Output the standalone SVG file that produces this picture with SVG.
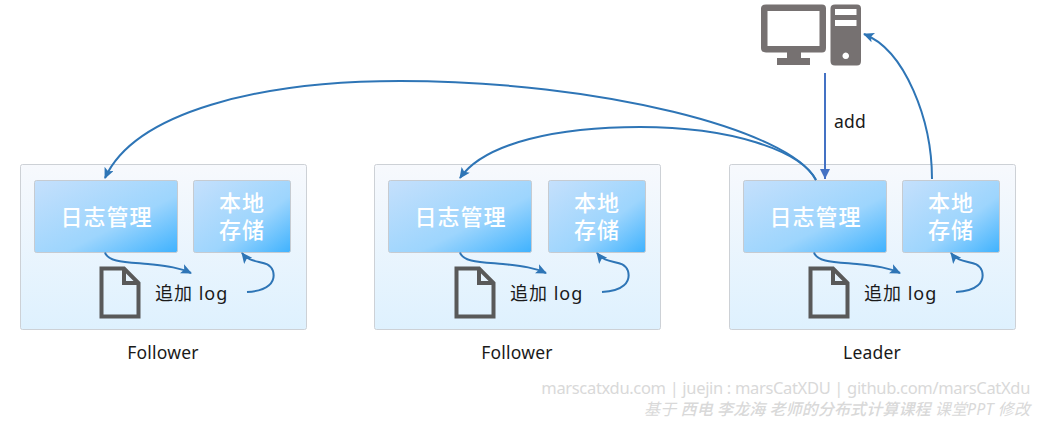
<svg xmlns="http://www.w3.org/2000/svg" width="1039" height="422" viewBox="0 0 1039 422">
<style>
text{font-family:"Noto Sans","Noto Sans CJK SC",sans-serif}
.panel{fill:url(#pg);stroke:#cdd1d6;stroke-width:1}
.box{fill:url(#bg);stroke:#c6cbd1;stroke-width:1}
.t{font-size:22px;font-weight:500;fill:#fff;text-anchor:middle;letter-spacing:1px}
.l{font-size:18px;fill:#1a1a1a;letter-spacing:1px}
.c{font-size:17.500px;fill:#1a1a1a;text-anchor:middle;letter-spacing:.2px}
.doc{fill:none;stroke:#595959;stroke-width:4}
.a{fill:none;stroke:#2e75b6;stroke-width:2;marker-end:url(#ah)}
.ic{fill:#767171}
.w1{font-size:16.500px;fill:#d9d9d9;text-anchor:end;letter-spacing:-.33px}
.w2{font-size:16px;fill:#d9d9d9;text-anchor:end;font-style:italic;letter-spacing:.1px}
.wb{font-weight:500}
</style>
<defs>
<linearGradient id="pg" x1="0" y1="0" x2="0" y2="1"><stop offset="0" stop-color="#f7f9fd"/><stop offset="1" stop-color="#def1fe"/></linearGradient>
<linearGradient id="bg" x1="0" y1="0" x2="1" y2="1"><stop offset="0" stop-color="#c5e0fc"/><stop offset="0.6" stop-color="#9dd5fd"/><stop offset="1" stop-color="#3fb2fe"/></linearGradient>
<marker id="ah" markerUnits="userSpaceOnUse" markerWidth="12" markerHeight="10" refX="10" refY="5" orient="auto"><path d="M0 0L11 5L0 10L2.500 5Z" fill="#2e75b6"/></marker>
<marker id="ab" markerUnits="userSpaceOnUse" markerWidth="12" markerHeight="10" refX="10" refY="5" orient="auto"><path d="M0 0L10 5L0 10Z" fill="#4472c4"/></marker>
<g id="left">
<rect class="panel" x="20.500" y="164.500" width="286" height="165" rx="2"/>
<rect class="box" x="34.500" y="180.500" width="143" height="72" rx="2"/>
<text class="t" x="106.500" y="225">日志管理</text>
</g>
<g id="right">
<rect class="box" x="193.500" y="180.500" width="97" height="72" rx="2"/>
<text class="t" x="242" y="211">本地</text>
<text class="t" x="242" y="238">存储</text>
<path class="doc" d="M101.500 268.500H124L138.500 283V316.500H101.500ZM124 268.500V283H138.500"/>
<text class="l" x="155" y="300">追加 log</text>
</g>
</defs>
<g id="follower-1"><use href="#left"/><use href="#right"/><text class="c" x="163" y="359">Follower</text></g>
<g id="follower-2"><use href="#left" x="354"/><use href="#right" x="355"/><text class="c" x="517" y="359">Follower</text></g>
<g id="leader"><use href="#left" x="709"/><use href="#right" x="709"/><text class="c" x="872" y="359">Leader</text></g>
<g id="client">
<path class="ic" fill-rule="evenodd" d="M766 4.500H822Q826 4.500 826 8.500V48Q826 52.500 822 52.500H801V58H810V65H777V58H787V52.500H766Q761 52.500 761 48V8.500Q761 4.500 766 4.500ZM767.500 11V46H819.500V11Z"/>
<path class="ic" fill-rule="evenodd" d="M835 4.500H857Q861 4.500 861 8.500V61Q861 65.500 857 65.500H835Q830.500 65.500 830.500 61V8.500Q830.500 4.500 835 4.500ZM835 9V15H856.500V9ZM835 20V26H856.500V20ZM845.700 52.500A3.300 3.300 0 1 0 845.800 52.500Z"/>
</g>
<g id="connectors">
<path class="a" d="M105 252.500C108 262 125 262 148 264C165 266 178 267 191 273"/>
<path class="a" d="M460 252.500C463 262 480 262 503 264C520 266 533 267 546 273"/>
<path class="a" d="M814 252.500C817 262 834 262 857 264C874 266 887 267 900 273"/>
<path class="a" d="M247 292C268 291 276 282 273 271C268 258 252 266 242 253"/>
<path class="a" d="M602 292C623 291 631 282 628 271C623 258 607 266 597 253"/>
<path class="a" d="M956 292C977 291 985 282 982 271C977 258 961 266 951 253"/>
<path class="a" d="M816 180C790 130 600 81 400 81C260 81 135 112 105 178"/>
<path class="a" d="M816 180C800 150 730 127 640 127C560 127 485 142 460 178"/>
<path class="a" d="M932 179C932 120 905 50 864 34"/>
<path d="M825 73V179" fill="none" stroke="#4472c4" stroke-width="2" marker-end="url(#ab)"/>
<text class="c" x="850" y="128">add</text>
</g>
<g id="watermark">
<text class="w1" x="1030" y="394">marscatxdu.com | juejin : marsCatXDU | github.com/marsCatXdu</text>
<text class="w2" x="1030" y="415">基于 <tspan class="wb">西电 李龙海 老师的分布式计算课程</tspan> 课堂PPT 修改</text>
</g>
</svg>
